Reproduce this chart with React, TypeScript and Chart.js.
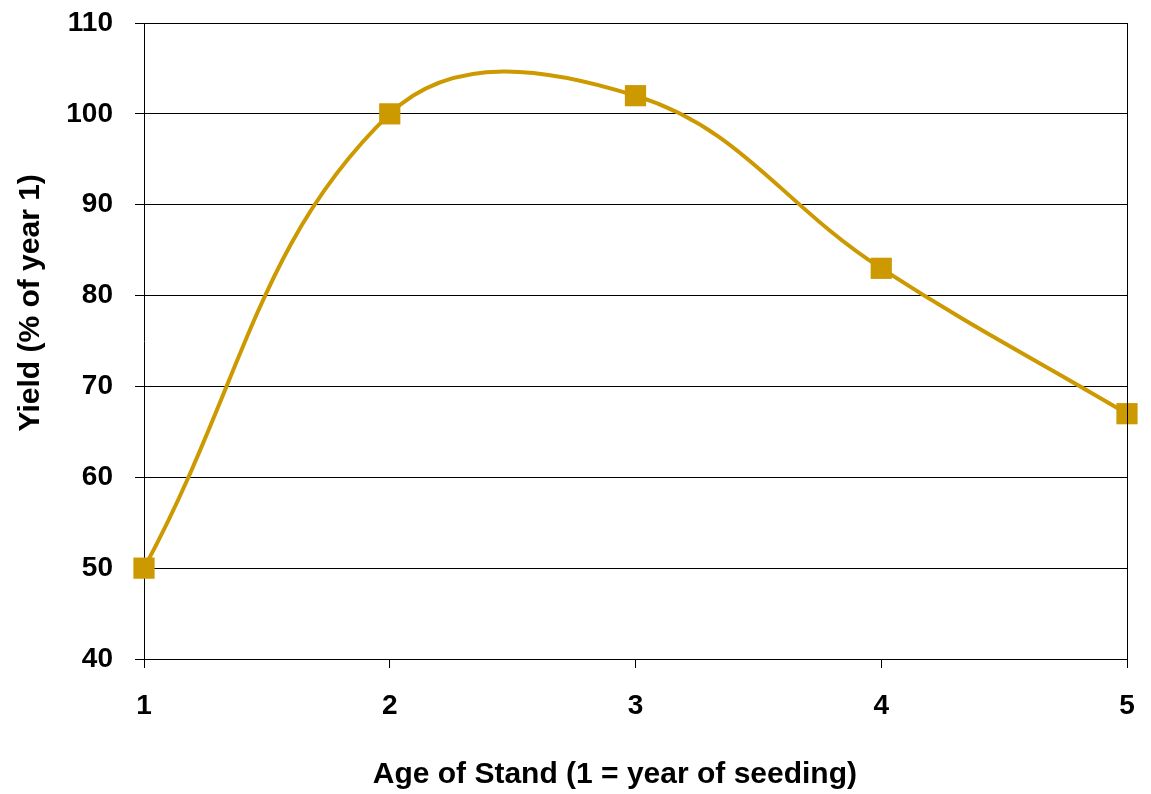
import React, { useEffect, useRef } from "react";
import { Chart, registerables } from "chart.js";

Chart.register(...registerables);

// Stand age (years) and relative yield (% of year 1)
const standAges = ["1", "2", "3", "4", "5"];
const yieldPct = [50, 100, 102, 83, 67];

const yMin = 40;
const yMax = 110;
const yStep = 10;

const xTitle = "Age of Stand (1 = year of seeding)";
const yTitle = "Yield (% of year 1)";

const lineColor = "#CC9900";
const fontFamily = "'Liberation Sans', Arial, sans-serif";

// Frame on the right side plus the two axis titles
const framePlugin = {
  id: "frameAndTitles",
  afterDraw(chart: any) {
    const { ctx, chartArea } = chart;
    const { left, right, top, bottom } = chartArea;
    ctx.save();
    ctx.strokeStyle = "#000";
    ctx.lineWidth = 1;
    ctx.beginPath();
    ctx.moveTo(right + 0.5, top);
    ctx.lineTo(right + 0.5, bottom);
    ctx.stroke();

    ctx.fillStyle = "#000";
    ctx.font = `bold 30px ${fontFamily}`;
    ctx.textAlign = "center";
    ctx.textBaseline = "middle";
    ctx.fillText(xTitle, left + (right - left) * 0.479, bottom + 116);

    ctx.translate(31, top + (bottom - top) * 0.44);
    ctx.rotate(-Math.PI / 2);
    ctx.fillText(yTitle, 0, 0);
    ctx.restore();
  },
};

export default function App() {
  const canvasRef = useRef<HTMLCanvasElement | null>(null);

  useEffect(() => {
    if (!canvasRef.current) return;
    const chart = new Chart(canvasRef.current, {
      type: "line",
      data: {
        labels: standAges,
        datasets: [
          {
            data: yieldPct,
            borderColor: lineColor,
            backgroundColor: lineColor,
            borderWidth: 4,
            tension: 0.4,
            pointStyle: "rect",
            pointRadius: 15,
            pointHoverRadius: 15,
            pointBorderWidth: 0,
            clip: false as any,
          },
        ],
      },
      options: {
        responsive: false,
        animation: false,
        events: [],
        layout: { padding: { top: 23, right: 24, left: 0, bottom: 0 } },
        plugins: {
          legend: { display: false },
          tooltip: { enabled: false },
        },
        scales: {
          x: {
            type: "category",
            offset: false,
            grid: {
              display: true,
              drawOnChartArea: false,
              drawTicks: true,
              tickLength: 9,
              color: "#000",
              lineWidth: 1,
            },
            border: { display: true, color: "#000", width: 1 },
            ticks: {
              color: "#000",
              padding: 21,
              font: { family: fontFamily, size: 28, weight: "bold" },
              maxRotation: 0,
            },
            afterFit(scale: any) {
              scale.height = 135;
              scale.paddingLeft = 0;
              scale.paddingRight = 0;
            },
          },
          y: {
            min: yMin,
            max: yMax,
            grid: {
              color: "#000",
              lineWidth: 1,
              tickLength: 9,
            },
            border: { display: true, color: "#000", width: 1 },
            ticks: {
              stepSize: yStep,
              color: "#000",
              padding: 22,
              font: { family: fontFamily, size: 28, weight: "bold" },
            },
            afterFit(scale: any) {
              scale.width = 144;
              scale.paddingTop = 0;
              scale.paddingBottom = 0;
            },
          },
        },
      },
      plugins: [framePlugin],
    });
    return () => chart.destroy();
  }, []);

  return (
    <div style={{ position: "absolute", left: 0, top: 0, width: 1151, height: 794, background: "#fff" }}>
      <canvas ref={canvasRef} width={1151} height={794} />
    </div>
  );
}
